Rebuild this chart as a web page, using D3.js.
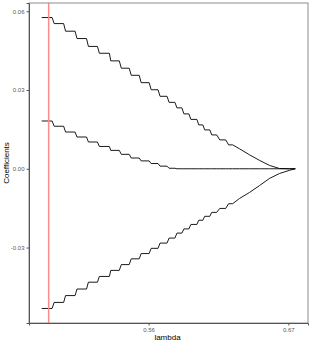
<!DOCTYPE html>
<html><head><meta charset="utf-8">
<script src="https://cdn.jsdelivr.net/npm/d3@7"></script>
<style>body{margin:0;background:#fff}svg{display:block}text{font-family:"Liberation Sans",Arial,sans-serif}</style>
</head><body><svg id="c" width="312" height="346"></svg>
<script>
const lambda = [0.4758,0.4840,0.4856,0.4931,0.4946,0.5021,0.5036,0.5111,0.5126,0.5197,0.5212,0.5291,0.5302,0.5369,0.5385,0.5447,0.5463,0.5526,0.5541,0.5604,0.5620,0.5674,0.5690,0.5745,0.5761,0.5807,0.5823,0.5862,0.5878,0.5917,0.5933,0.5980,0.5995,0.6027,0.6042,0.6082,0.6097,0.6136,0.6160,0.6207,0.6230,0.6262,0.6316,0.6395,0.6473,0.6551,0.6630,0.6708,0.6755];
const coefTop = [0.0576,0.0576,0.0553,0.0553,0.0524,0.0524,0.0496,0.0496,0.0466,0.0466,0.0440,0.0440,0.0411,0.0411,0.0383,0.0383,0.0356,0.0356,0.0328,0.0328,0.0301,0.0301,0.0276,0.0276,0.0253,0.0253,0.0232,0.0232,0.0209,0.0209,0.0188,0.0188,0.0167,0.0167,0.0148,0.0148,0.0129,0.0129,0.0110,0.0110,0.0091,0.0091,0.0076,0.0053,0.0032,0.0013,0.0001,0.0000,0.0000];
const coefMid = [0.0182,0.0182,0.0162,0.0162,0.0140,0.0140,0.0121,0.0121,0.0102,0.0102,0.0085,0.0085,0.0070,0.0070,0.0055,0.0055,0.0041,0.0041,0.0030,0.0030,0.0020,0.0020,0.0010,0.0010,0.0002,0.0002,0,0,0,0,0,0,0,0,0,0,0,0,0,0,0,0,0,0,0,0,0,0,0];
const coefBot = [-0.0532,-0.0532,-0.0509,-0.0509,-0.0483,-0.0483,-0.0458,-0.0458,-0.0432,-0.0432,-0.0410,-0.0410,-0.0387,-0.0387,-0.0365,-0.0365,-0.0343,-0.0343,-0.0323,-0.0323,-0.0303,-0.0303,-0.0283,-0.0283,-0.0264,-0.0264,-0.0245,-0.0245,-0.0229,-0.0229,-0.0212,-0.0212,-0.0196,-0.0196,-0.0181,-0.0181,-0.0166,-0.0166,-0.0151,-0.0151,-0.0133,-0.0133,-0.0113,-0.0090,-0.0064,-0.0037,-0.0018,-0.0006,0.0000];
const selectedLambda = 0.4813;
const xTicks = [0.56, 0.67];
const xTickLabels = ["0.56", "0.67"];
const yTicks = [0.06, 0.03, 0.00, -0.03];
const yTickLabels = ["0.06", "0.03", "0.00", "-0.03"];

const svg = d3.select("#c");
const L = 29, R = 308, T = 3, B = 323;
const xe = d3.extent(lambda), xp = (xe[1]-xe[0])*0.05;
const allY = coefTop.concat(coefMid, coefBot);
const ye = d3.extent(allY), yp = (ye[1]-ye[0])*0.05;
const x = d3.scaleLinear().domain([xe[0]-xp, xe[1]+xp]).range([L, R]);
const y = d3.scaleLinear().domain([ye[0]-yp, ye[1]+yp]).range([B, T]);

const line = d3.line().x(d => x(d[0])).y(d => y(d[1]));
[coefTop, coefMid, coefBot].forEach(s => {
  svg.append("path").datum(lambda.map((l,i) => [l, s[i]]))
    .attr("d", line).attr("fill","none").attr("stroke","#000").attr("stroke-width",0.9);
});
svg.append("line").attr("x1", x(selectedLambda)).attr("x2", x(selectedLambda))
  .attr("y1", T).attr("y2", B).attr("stroke","#ff8a8a").attr("stroke-width",1.5);

svg.append("rect").attr("x",L).attr("y",T).attr("width",R-L).attr("height",B-T)
  .attr("fill","none").attr("stroke","#8c8c8c").attr("stroke-width",1);

const xa = svg.append("g").attr("transform",`translate(0,${B})`)
  .call(d3.axisBottom(x).tickValues(xTicks).tickFormat((d,i)=>xTickLabels[i]).tickSize(2.5).tickPadding(2));
const ya = svg.append("g").attr("transform",`translate(${L},0)`)
  .call(d3.axisLeft(y).tickValues(yTicks).tickFormat((d,i)=>yTickLabels[i]).tickSize(2.5).tickPadding(2));
[xa, ya].forEach(a => {
  a.select(".domain").attr("stroke","#555");
  a.selectAll(".tick line").attr("stroke","#555");
  a.selectAll(".tick text").attr("fill","#595959").style("font-size","6px");
});

svg.append("text").attr("x",(L+R)/2 - 1).attr("y",340).attr("text-anchor","middle")
  .style("font-size","8px").attr("fill","#000000").text("lambda");
svg.append("text").attr("transform",`translate(9,${(T+B)/2}) rotate(-90)`).attr("text-anchor","middle")
  .style("font-size","8px").attr("fill","#000000").text("Coefficients");
</script></body></html>
